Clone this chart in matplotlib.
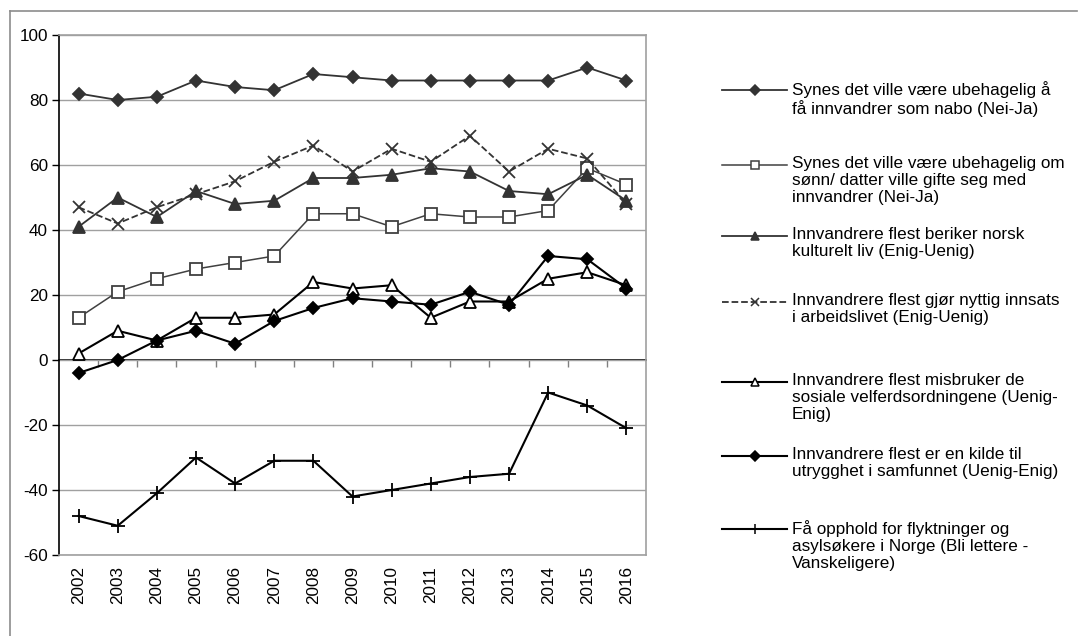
import matplotlib
matplotlib.use("Agg")
import matplotlib.pyplot as plt
from matplotlib.lines import Line2D

plt.rcParams["font.family"] = ["Liberation Sans", "DejaVu Sans"]
plt.rcParams["font.size"] = 12
plt.rcParams["axes.unicode_minus"] = False

W, H = 1078, 636

years = ["2002", "2003", "2004", "2005", "2006", "2007", "2008", "2009",
         "2010", "2011", "2012", "2013", "2014", "2015", "2016"]

nabo = [82, 80, 81, 86, 84, 83, 88, 87, 86, 86, 86, 86, 86, 90, 86]
gifte = [13, 21, 25, 28, 30, 32, 45, 45, 41, 45, 44, 44, 46, 59, 54]
beriker = [41, 50, 44, 52, 48, 49, 56, 56, 57, 59, 58, 52, 51, 57, 49]
innsats = [47, 42, 47, 51, 55, 61, 66, 58, 65, 61, 69, 58, 65, 62, 48]
misbruker = [2, 9, 6, 13, 13, 14, 24, 22, 23, 13, 18, 18, 25, 27, 23]
utrygghet = [-4, 0, 6, 9, 5, 12, 16, 19, 18, 17, 21, 17, 32, 31, 22]
opphold = [-48, -51, -41, -30, -38, -31, -31, -42, -40, -38, -36, -35, -10, -14, -21]

labels = [
    "Synes det ville være ubehagelig å\nfå innvandrer som nabo (Nei-Ja)",
    "Synes det ville være ubehagelig om\nsønn/ datter ville gifte seg med\ninnvandrer (Nei-Ja)",
    "Innvandrere flest beriker norsk\nkulturelt liv (Enig-Uenig)",
    "Innvandrere flest gjør nyttig innsats\ni arbeidslivet (Enig-Uenig)",
    "Innvandrere flest misbruker de\nsosiale velferdsordningene (Uenig-\nEnig)",
    "Innvandrere flest er en kilde til\nutrygghet i samfunnet (Uenig-Enig)",
    "Få opphold for flyktninger og\nasylsøkere i Norge (Bli lettere -\nVanskeligere)",
]

# style per series: colour, linestyle, marker, marker face, size, width
styles = [
    dict(color="#333333", ls="-", marker="D", mfc="#333333", ms=6.5, lw=1.3),
    dict(color="#404040", ls="-", marker="s", mfc="white", ms=8, lw=1.1),
    dict(color="#333333", ls="-", marker="^", mfc="#333333", ms=8, lw=1.3),
    dict(color="#333333", ls="--", marker="x", mfc="#333333", ms=8, lw=1.3),
    dict(color="black", ls="-", marker="^", mfc="white", ms=8, lw=1.5),
    dict(color="black", ls="-", marker="D", mfc="black", ms=6.5, lw=1.5),
    dict(color="black", ls="-", marker="+", mfc="black", ms=10, lw=1.5),
]
series = [nabo, gifte, beriker, innsats, misbruker, utrygghet, opphold]

fig = plt.figure(figsize=(W / 100, H / 100), dpi=100)
left, right, top, bottom = 59, 646, 35, 555
ax = fig.add_axes([left / W, 1 - bottom / H, (right - left) / W, (bottom - top) / H])

x = list(range(len(years)))
for vals, st in zip(series, styles):
    ax.plot(x, vals, color=st["color"], linestyle=st["ls"], linewidth=st["lw"],
            marker=st["marker"], markersize=st["ms"], markerfacecolor=st["mfc"],
            markeredgecolor=st["color"], markeredgewidth=1.3, zorder=3)

ymin, ymax = -60, 100
ax.set_xlim(-0.5, len(years) - 0.5)
ax.set_ylim(ymin, ymax)
ax.set_yticks(range(-60, 101, 20))
ax.yaxis.grid(True, color="#a0a0a0", linewidth=1.0)
ax.set_axisbelow(True)
ax.tick_params(axis="y", length=5, width=1, color="black", labelsize=12.3, pad=3)

ax.set_xticks(x)
ax.set_xticklabels(years, rotation=90, fontsize=12.3)
ax.tick_params(axis="x", length=0, pad=8)

for side in ["top", "right", "bottom"]:
    ax.spines[side].set_color("#a0a0a0")
    ax.spines[side].set_linewidth(1.2)
ax.spines["left"].set_color("black")
ax.spines["left"].set_linewidth(1.2)

# category axis drawn through zero with ticks between categories
zero_pos = (0 - ymin) / (ymax - ymin)
sec = ax.secondary_xaxis(zero_pos)
sec.set_xticks([i + 0.5 for i in x[:-1]])
sec.set_xticklabels([])
sec.tick_params(axis="x", direction="out", length=5, width=1, color="#808080")
sec.spines["bottom"].set_color("black")
sec.spines["bottom"].set_linewidth(1.2)
sec.spines["top"].set_visible(False)

# outer frame (top and left edges only)
frame_col = "#8c8c8c"
fig.add_artist(Line2D([10 / W, 1077 / W], [1 - 11 / H, 1 - 11 / H],
                      transform=fig.transFigure, color=frame_col, lw=1.2))
fig.add_artist(Line2D([10 / W, 10 / W], [1 - 11 / H, 0],
                      transform=fig.transFigure, color=frame_col, lw=1.2))

# legend, one entry per series
entry_y = [90, 165, 236, 302, 382, 456, 529]
hx0, hx1, tx = 722, 787, 792
for st, lab, yy in zip(styles, labels, entry_y):
    fy = 1 - yy / H
    fig.add_artist(Line2D([hx0 / W, (hx0 + hx1) / 2 / W, hx1 / W], [fy, fy, fy],
                          transform=fig.transFigure, color=st["color"],
                          linestyle=st["ls"], linewidth=st["lw"],
                          marker=st["marker"], markevery=[1],
                          markersize=st["ms"] * 0.75, markerfacecolor=st["mfc"],
                          markeredgecolor=st["color"], markeredgewidth=1.1))
    fig.text(tx / W, 1 - (yy - 9) / H, lab, fontsize=12.3, va="top", ha="left",
             linespacing=1.17)

fig.savefig("out.png", dpi=100)
